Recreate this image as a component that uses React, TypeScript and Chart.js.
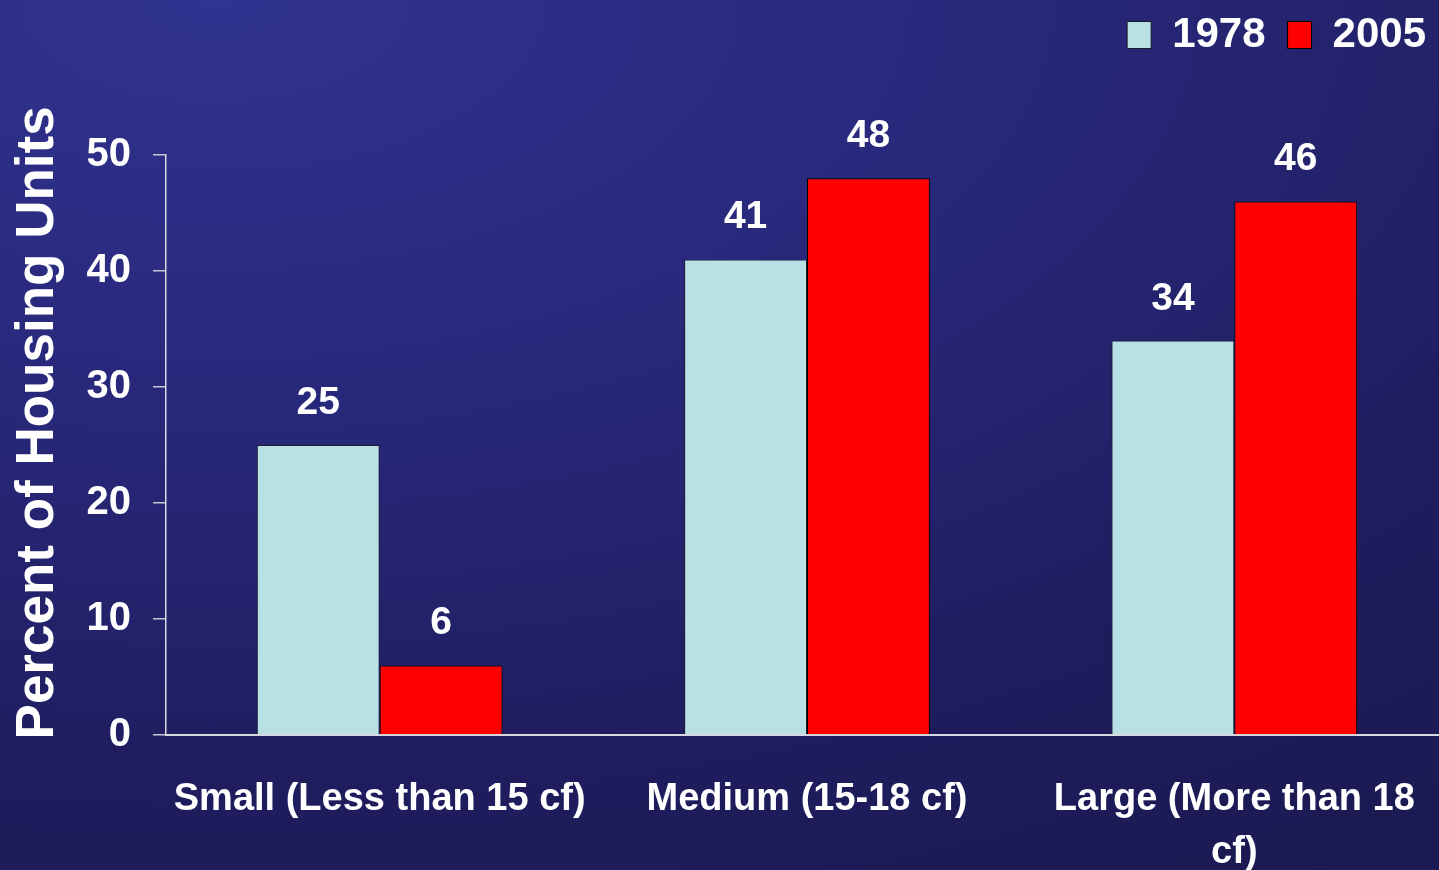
import React, { useEffect, useRef } from 'react';
import { Chart, registerables } from 'chart.js';

Chart.register(...registerables);

// ---- data ----
const categories: (string | string[])[] = [
  'Small (Less than 15 cf)',
  'Medium (15-18 cf)',
  ['Large (More than 18', 'cf)'],
];
const seriesNames = ['1978', '2005'];
const values1978 = [25, 41, 34];
const values2005 = [6, 48, 46];
const yAxisTitle = '\u00a0\u00a0\u00a0Percent of Housing Units';
const yMin = 0;
const yMax = 50;
const yStep = 10;

const FONT = '"Liberation Sans", Arial, Helvetica, sans-serif';

const valueLabels = {
  id: 'valueLabels',
  afterDatasetsDraw(chart: any) {
    const ctx = chart.ctx;
    ctx.save();
    ctx.font = `bold 39px ${FONT}`;
    ctx.fillStyle = '#ffffff';
    ctx.textAlign = 'center';
    ctx.textBaseline = 'alphabetic';
    chart.data.datasets.forEach((ds: any, i: number) => {
      const meta = chart.getDatasetMeta(i);
      meta.data.forEach((el: any, j: number) => {
        ctx.fillText(String(ds.data[j]), el.x, el.y - 31);
      });
    });
    ctx.restore();
  },
};

const LEGEND_GAP = 89;
const legendGap = {
  id: 'legendGap',
  beforeLayout(chart: any) {
    const lg = chart.legend;
    if (lg && !lg._gapPatched) {
      const orig = lg.fit.bind(lg);
      lg.fit = function () {
        orig();
        this.height += LEGEND_GAP;
      };
      lg._gapPatched = true;
    }
  },
};

export default function App() {
  const ref = useRef<HTMLCanvasElement | null>(null);

  useEffect(() => {
    if (!ref.current) return;
    const chart = new Chart(ref.current, {
      type: 'bar',
      data: {
        labels: categories,
        datasets: [
          {
            label: seriesNames[0],
            data: values1978,
            backgroundColor: '#b9e0e3',
            borderColor: '#1a1a2a',
            borderWidth: 1,
          },
          {
            label: seriesNames[1],
            data: values2005,
            backgroundColor: '#ff0000',
            borderColor: '#000000',
            borderWidth: 1,
          },
        ],
      },
      options: {
        responsive: false,
        animation: false,
        devicePixelRatio: 1,
        layout: { padding: { left: 0, right: 2, top: -8, bottom: 0 } },
        datasets: {
          bar: { categoryPercentage: 0.575, barPercentage: 1.0 },
        },
        plugins: {
          tooltip: { enabled: false },
          legend: {
            display: true,
            position: 'top',
            align: 'end',
            labels: {
              color: '#ffffff',
              boxWidth: 24,
              boxHeight: 27,
              padding: 22,
              font: { family: FONT, size: 42, weight: 'bold', lineHeight: 1.0 },
            },
          },
        },
        scales: {
          x: {
            grid: { display: false },
            border: { display: true, color: '#d8d8e0', width: 2 },
            ticks: {
              color: '#ffffff',
              padding: 30,
              maxRotation: 0,
              autoSkip: false,
              font: { family: FONT, size: 38, weight: 'bold', lineHeight: 1.4 },
            },
            afterFit(scale: any) {
              scale.height = 135;
            },
          },
          y: {
            min: yMin,
            max: yMax,
            ticks: {
              stepSize: yStep,
              color: '#ffffff',
              padding: 22,
              font: { family: FONT, size: 40, weight: 'bold' },
            },
            grid: {
              display: true,
              drawOnChartArea: false,
              drawTicks: true,
              tickLength: 13,
              color: '#c8c8d0',
              lineWidth: 1.5,
            },
            border: { display: true, color: '#d8d8e0', width: 1.5 },
            title: {
              display: true,
              text: yAxisTitle,
              color: '#ffffff',
              padding: { top: 12, bottom: 0 },
              font: { family: FONT, size: 53, weight: 'bold', lineHeight: 1.0 },
            },
            afterFit(scale: any) {
              scale.width = 166;
            },
          },
        },
      },
      plugins: [valueLabels, legendGap],
    } as any);
    return () => chart.destroy();
  }, []);

  return (
    <div
      style={{
        position: 'fixed',
        left: 0,
        top: 0,
        width: 1439,
        height: 870,
        overflow: 'hidden',
        background:
          'radial-gradient(ellipse 140% 120% at 15% 0%, #30338f 0%, #28287a 40%, #1f1d5e 75%, #1b1a52 100%)',
      }}
    >
      <canvas ref={ref} width={1450} height={870} style={{ display: 'block' }} />
    </div>
  );
}
